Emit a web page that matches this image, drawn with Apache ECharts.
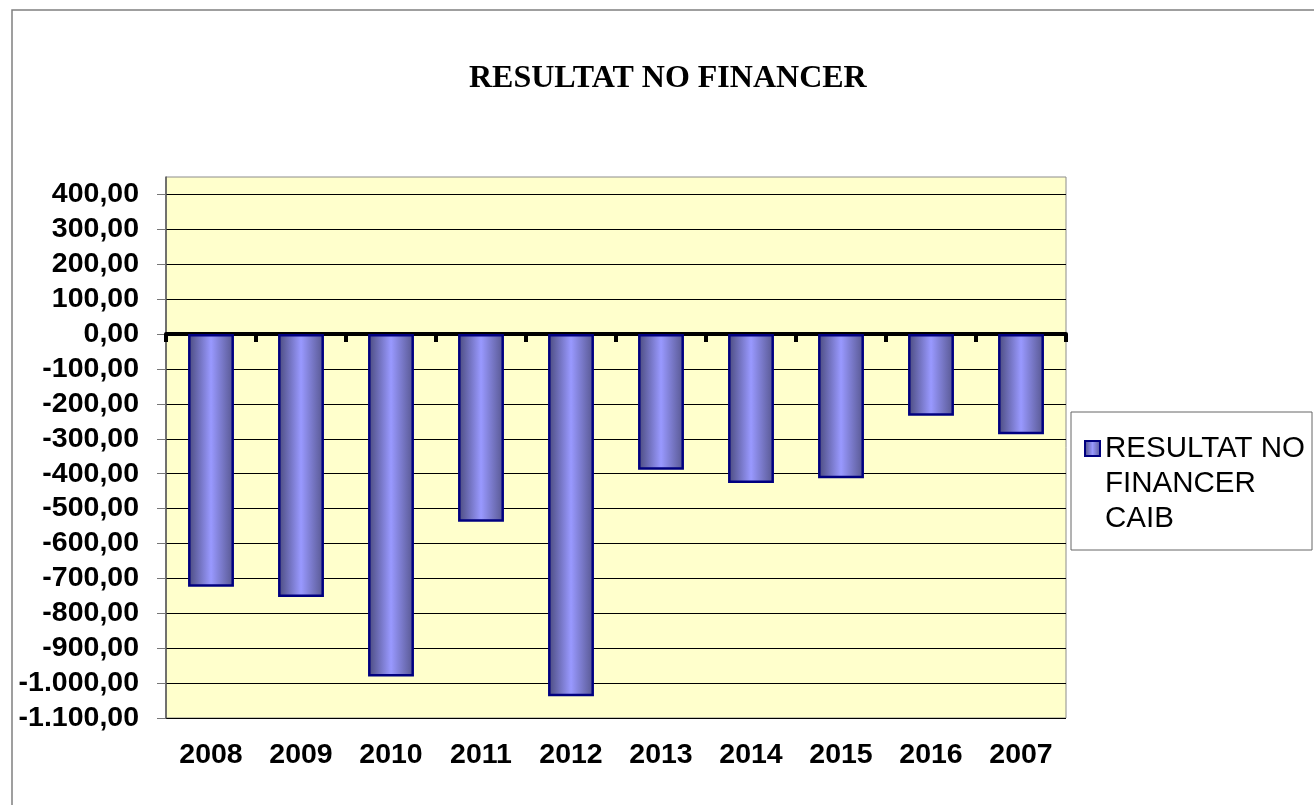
<!DOCTYPE html>
<html>
<head>
<meta charset="utf-8">
<script src="https://cdn.jsdelivr.net/npm/echarts@6/dist/echarts.min.js"></script>
<style>
  html, body { margin: 0; padding: 0; background: #fff; }
  #chart { width: 1314px; height: 805px; }
</style>
</head>
<body>
<div id="chart"></div>
<script>
// dades llegides del gràfic
const years = ['2008', '2009', '2010', '2011', '2012', '2013', '2014', '2015', '2016', '2007'];
const resultat = [-724, -753, -981, -538, -1038, -389, -427, -413, -234, -287];
const yTicks = [400, 300, 200, 100, 0, -100, -200, -300, -400, -500, -600, -700, -800, -900, -1000, -1100];
const seriesName = 'RESULTAT NO FINANCER CAIB';

const chart = echarts.init(document.getElementById('chart'));

// format europeu: 1.000,00
const fmt = v => {
  if (yTicks.indexOf(v) < 0) return '';
  const sign = v < 0 ? '-' : '';
  const s = String(Math.abs(v)).replace(/\B(?=(\d{3})+(?!\d))/g, '.');
  return sign + s + ',00';
};

const barFill = new echarts.graphic.LinearGradient(0, 0, 1, 0, [
  { offset: 0, color: '#4a4a7c' },
  { offset: 0.5, color: '#9999ff' },
  { offset: 1, color: '#56568e' }
]);

const option = {
  animation: false,
  backgroundColor: '#fff',
  title: {
    text: 'RESULTAT NO FINANCER',
    left: 464,
    top: 58,
    textStyle: {
      fontFamily: 'Liberation Serif',
      fontWeight: 'bold',
      fontSize: 32,
      color: '#000'
    }
  },
  grid: {
    left: 166,
    right: 248,
    top: 177,
    bottom: 87,
    show: true,
    backgroundColor: '#ffffcc',
    borderColor: '#8c8c8c',
    borderWidth: 1
  },
  legend: {
    left: 1084,
    top: 361,
    padding: 0,
    itemWidth: 15,
    itemHeight: 15,
    itemGap: 0,
    icon: 'rect',
    // dues línies buides a dalt perquè la icona quedi a la primera línia
    formatter: () => '\n\nRESULTAT NO\nFINANCER\nCAIB',
    textStyle: {
      fontFamily: 'Liberation Sans',
      fontSize: 29.5,
      lineHeight: 35,
      color: '#000'
    }
  },
  xAxis: [
    {
      type: 'category',
      data: years,
      position: 'bottom',
      axisLine: { onZero: false, show: false },
      axisTick: { show: false },
      axisLabel: {
        margin: 23,
        fontFamily: 'Liberation Sans',
        fontWeight: 'bold',
        fontSize: 28.5,
        color: '#000'
      }
    },
    {
      type: 'category',
      data: years,
      position: 'top',
      axisLine: { onZero: true, lineStyle: { color: '#000', width: 4 } },
      axisTick: { show: true, inside: true, length: 8, lineStyle: { color: '#000', width: 4 } },
      axisLabel: { show: false },
      splitLine: { show: false }
    }
  ],
  yAxis: {
    type: 'value',
    min: -1100,
    max: 450,
    interval: 100,
    axisLine: { show: true, lineStyle: { color: '#555', width: 1.5 } },
    axisTick: { show: true, length: 9, lineStyle: { color: '#777' }, customValues: yTicks },
    axisLabel: {
      margin: 27,
      formatter: fmt,
      customValues: yTicks,
      fontFamily: 'Liberation Sans',
      fontWeight: 'bold',
      fontSize: 28.5,
      color: '#000'
    },
    splitLine: { show: true, lineStyle: { color: '#000', width: 1 } }
  },
  series: [
    {
      name: seriesName,
      type: 'bar',
      xAxisIndex: 0,
      data: resultat,
      barWidth: '51%',
      itemStyle: {
        color: barFill,
        borderColor: '#000080',
        borderWidth: 2.5
      }
    }
  ],
  graphic: [
    {
      type: 'rect',
      silent: true,
      z: -10,
      shape: { x: 12, y: 10, width: 1320, height: 820 },
      style: { fill: 'none', stroke: '#808080', lineWidth: 1.5 }
    },
    {
      type: 'rect',
      silent: true,
      z: -5,
      shape: { x: 1071, y: 412, width: 241, height: 138 },
      style: { fill: '#fff', stroke: '#666', lineWidth: 1 }
    }
  ]
};

chart.setOption(option);
</script>
</body>
</html>
